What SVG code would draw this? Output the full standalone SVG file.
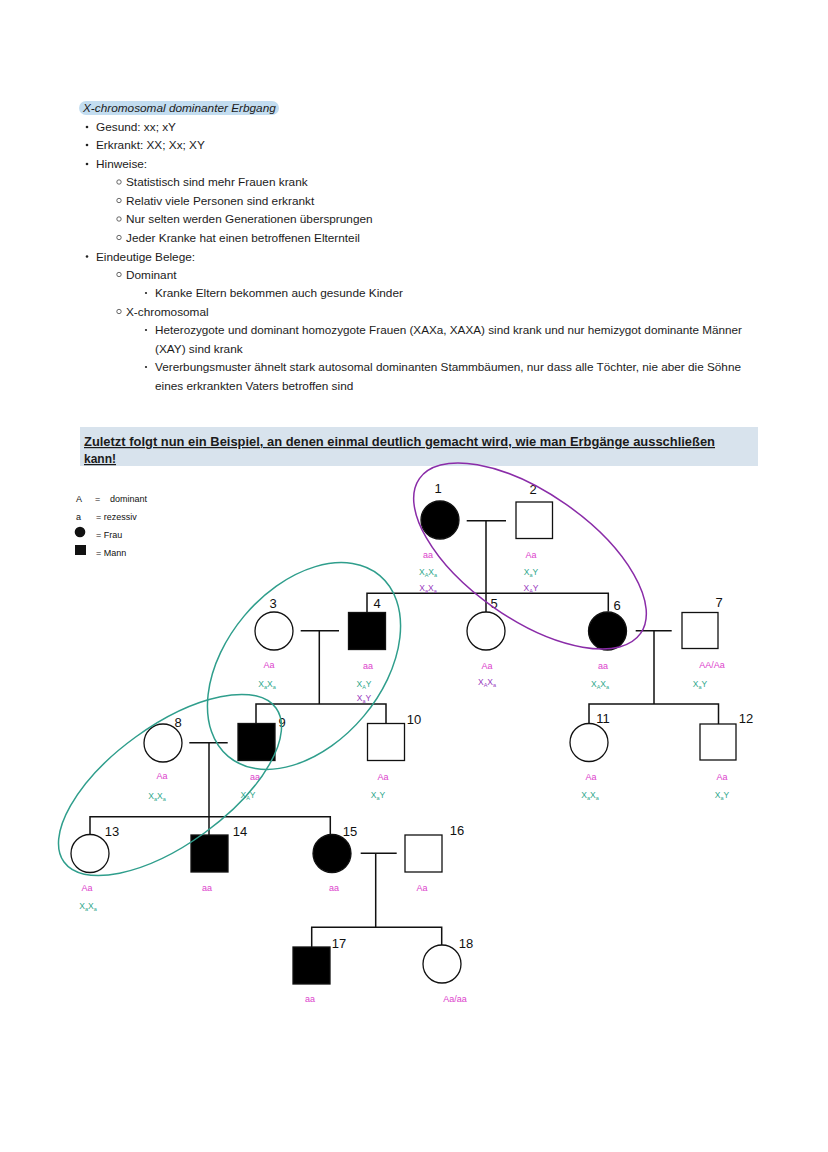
<svg xmlns="http://www.w3.org/2000/svg" width="828" height="1152" viewBox="0 0 828 1152">
<style>
.t{font-family:"Liberation Sans",Arial,sans-serif;font-size:11.8px;fill:#1b1b1b}
.b{font-family:"Liberation Sans",Arial,sans-serif;font-size:12px;font-weight:bold;fill:#1b1b1b;text-decoration:underline}
.lg{font-family:"Liberation Sans",Arial,sans-serif;font-size:9px;fill:#111}
.n{font-family:"Liberation Sans",Arial,sans-serif;font-size:13px;fill:#111;text-anchor:middle}
.m{font-family:"Liberation Sans",Arial,sans-serif;font-size:9px;fill:#dc42cc;text-anchor:middle}
.g{font-family:"Liberation Sans",Arial,sans-serif;font-size:8.5px;fill:#2fa88c;text-anchor:middle}
.p{font-family:"Liberation Sans",Arial,sans-serif;font-size:8.5px;fill:#9a3cc0;text-anchor:middle}
.s{font-size:5.5px}
.ln{fill:none;stroke:#111;stroke-width:1.5}
.fe{fill:#000;stroke:#111;stroke-width:1.3}
.em{fill:#fff;stroke:#111;stroke-width:1.3}
.dot{fill:#222}
.ring{fill:none;stroke:#444;stroke-width:0.8}
</style>
<rect width="828" height="1152" fill="#fff"/>

<g id="notes">
<rect x="79" y="101" width="200" height="14" rx="7" fill="#c3ddf0"/>
<text class="t" x="83" y="112" font-style="italic">X-chromosomal dominanter Erbgang</text>
<circle class="dot" cx="87" cy="127" r="1.3"/>
<text class="t" x="96" y="131">Gesund: xx; xY</text>
<circle class="dot" cx="87" cy="145" r="1.3"/>
<text class="t" x="96" y="149">Erkrankt: XX; Xx; XY</text>
<circle class="dot" cx="87" cy="164" r="1.3"/>
<text class="t" x="96" y="168">Hinweise:</text>
<circle class="ring" cx="119" cy="182" r="2.2"/>
<text class="t" x="126" y="186">Statistisch sind mehr Frauen krank</text>
<circle class="ring" cx="119" cy="200.5" r="2.2"/>
<text class="t" x="126" y="204.5">Relativ viele Personen sind erkrankt</text>
<circle class="ring" cx="119" cy="219" r="2.2"/>
<text class="t" x="126" y="223">Nur selten werden Generationen übersprungen</text>
<circle class="ring" cx="119" cy="237.5" r="2.2"/>
<text class="t" x="126" y="241.5">Jeder Kranke hat einen betroffenen Elternteil</text>
<circle class="dot" cx="87" cy="256.5" r="1.3"/>
<text class="t" x="96" y="260.5">Eindeutige Belege:</text>
<circle class="ring" cx="119" cy="274.5" r="2.2"/>
<text class="t" x="126" y="278.5">Dominant</text>
<circle class="dot" cx="146" cy="293" r="1.1"/>
<text class="t" x="155" y="297">Kranke Eltern bekommen auch gesunde Kinder</text>
<circle class="ring" cx="119" cy="311.5" r="2.2"/>
<text class="t" x="126" y="315.5">X-chromosomal</text>
<circle class="dot" cx="146" cy="330" r="1.1"/>
<text class="t" x="155" y="334" textLength="587" lengthAdjust="spacingAndGlyphs">Heterozygote und dominant homozygote Frauen (XAXa, XAXA) sind krank und nur hemizygot dominante Männer</text>
<text class="t" x="155" y="352.5">(XAY) sind krank</text>
<circle class="dot" cx="146" cy="367" r="1.1"/>
<text class="t" x="155" y="371" textLength="586" lengthAdjust="spacingAndGlyphs">Vererbungsmuster ähnelt stark autosomal dominanten Stammbäumen, nur dass alle Töchter, nie aber die Söhne</text>
<text class="t" x="155" y="389.5">eines erkrankten Vaters betroffen sind</text>
</g>

<g id="example-box">
<rect x="80" y="427" width="678" height="39" fill="#d8e3ed"/>
<text class="b" x="84" y="446" textLength="631" lengthAdjust="spacingAndGlyphs">Zuletzt folgt nun ein Beispiel, an denen einmal deutlich gemacht wird, wie man Erbgänge ausschließen</text>
<text class="b" x="84" y="463">kann!</text>
</g>

<g id="legend">
<text class="lg" x="76" y="502">A</text>
<text class="lg" x="95" y="502">=</text>
<text class="lg" x="110" y="502">dominant</text>
<text class="lg" x="76" y="520">a</text>
<text class="lg" x="96" y="520">= rezessiv</text>
<circle cx="80" cy="532" r="5.3" fill="#111"/>
<text class="lg" x="96" y="538">= Frau</text>
<rect x="75" y="545" width="11" height="10" fill="#111"/>
<text class="lg" x="96" y="556">= Mann</text>
</g>

<g id="connectors">
<path class="ln" d="M466.7 520.7H506M486 520.7V612M367 612.5V593.3H608.3V611.5"/>
<path class="ln" d="M300.7 630.7H339M319.3 630.7V704M256 723.5V704H386V723.5"/>
<path class="ln" d="M635.7 630.7H671.7M654 630.7V704M589 723.5V704H718.5V724"/>
<path class="ln" d="M189.3 742.7H227.7M209 742.7V835M90 834.5V816.7H330.3V834.5"/>
<path class="ln" d="M360.7 853.3H396.7M375.7 853.3V927.3M311.7 947V927.3H441.7V945"/>
</g>

<g id="p1"><circle class="fe" cx="440" cy="520" r="19"/><text class="n" x="438" y="493">1</text>
<text class="m" x="428" y="558">aa</text>
<text class="g" x="428" y="575">X<tspan class="s" dy="1.5">A</tspan><tspan dy="-1.5">X</tspan><tspan class="s" dy="1.5">a</tspan></text>
<text class="p" x="428" y="591">X<tspan class="s" dy="1.5">a</tspan><tspan dy="-1.5">X</tspan><tspan class="s" dy="1.5">a</tspan></text></g>
<g id="p2"><rect class="em" x="516" y="502" width="36.5" height="36.5"/><text class="n" x="533" y="494">2</text>
<text class="m" x="531" y="558">Aa</text>
<text class="g" x="531" y="575">X<tspan class="s" dy="1.5">a</tspan><tspan dy="-1.5">Y</tspan></text>
<text class="p" x="531" y="591">X<tspan class="s" dy="1.5">A</tspan><tspan dy="-1.5">Y</tspan></text></g>
<g id="p3"><circle class="em" cx="274" cy="631" r="19"/><text class="n" x="273" y="608">3</text>
<text class="m" x="269" y="668">Aa</text>
<text class="g" x="267" y="687">X<tspan class="s" dy="1.5">a</tspan><tspan dy="-1.5">X</tspan><tspan class="s" dy="1.5">a</tspan></text></g>
<g id="p4"><rect class="fe" x="348.5" y="612.5" width="37" height="37"/><text class="n" x="377" y="608">4</text>
<text class="m" x="368" y="669">aa</text>
<text class="g" x="364" y="687">X<tspan class="s" dy="1.5">A</tspan><tspan dy="-1.5">Y</tspan></text>
<text class="p" x="364" y="701">X<tspan class="s" dy="1.5">a</tspan><tspan dy="-1.5">Y</tspan></text></g>
<g id="p5"><circle class="em" cx="486" cy="631" r="19"/><text class="n" x="494" y="608">5</text>
<text class="m" x="487" y="669">Aa</text>
<text class="p" x="487" y="685">X<tspan class="s" dy="1.5">A</tspan><tspan dy="-1.5">X</tspan><tspan class="s" dy="1.5">a</tspan></text></g>
<g id="p6"><circle class="fe" cx="607.5" cy="631" r="19"/><text class="n" x="617" y="610">6</text>
<text class="m" x="603" y="669">aa</text>
<text class="g" x="600" y="687">X<tspan class="s" dy="1.5">A</tspan><tspan dy="-1.5">X</tspan><tspan class="s" dy="1.5">a</tspan></text></g>
<g id="p7"><rect class="em" x="682" y="612.5" width="36" height="36"/><text class="n" x="719" y="607">7</text>
<text class="m" x="712" y="668">AA/Aa</text>
<text class="g" x="700" y="687">X<tspan class="s" dy="1.5">a</tspan><tspan dy="-1.5">Y</tspan></text></g>
<g id="p8"><circle class="em" cx="163" cy="743" r="19"/><text class="n" x="178" y="727">8</text>
<text class="m" x="162" y="779">Aa</text>
<text class="g" x="157" y="799">X<tspan class="s" dy="1.5">a</tspan><tspan dy="-1.5">X</tspan><tspan class="s" dy="1.5">a</tspan></text></g>
<g id="p9"><rect class="fe" x="238" y="723.5" width="37" height="37"/><text class="n" x="282" y="727">9</text>
<text class="m" x="255" y="780">aa</text>
<text class="g" x="248" y="798">X<tspan class="s" dy="1.5">A</tspan><tspan dy="-1.5">Y</tspan></text></g>
<g id="p10"><rect class="em" x="367.5" y="723.5" width="37" height="37"/><text class="n" x="414" y="724">10</text>
<text class="m" x="383" y="780">Aa</text>
<text class="g" x="378" y="798">X<tspan class="s" dy="1.5">a</tspan><tspan dy="-1.5">Y</tspan></text></g>
<g id="p11"><circle class="em" cx="589" cy="742.5" r="19"/><text class="n" x="603" y="723">11</text>
<text class="m" x="591" y="780">Aa</text>
<text class="g" x="590" y="798">X<tspan class="s" dy="1.5">a</tspan><tspan dy="-1.5">X</tspan><tspan class="s" dy="1.5">a</tspan></text></g>
<g id="p12"><rect class="em" x="700" y="724" width="36" height="36"/><text class="n" x="746" y="723">12</text>
<text class="m" x="722" y="780">Aa</text>
<text class="g" x="722" y="798">X<tspan class="s" dy="1.5">a</tspan><tspan dy="-1.5">Y</tspan></text></g>
<g id="p13"><circle class="em" cx="90" cy="853.5" r="19"/><text class="n" x="112" y="836">13</text>
<text class="m" x="87" y="891">Aa</text>
<text class="g" x="88" y="909">X<tspan class="s" dy="1.5">a</tspan><tspan dy="-1.5">X</tspan><tspan class="s" dy="1.5">a</tspan></text></g>
<g id="p14"><rect class="fe" x="191" y="835" width="37" height="37"/><text class="n" x="240" y="836">14</text>
<text class="m" x="207" y="891">aa</text></g>
<g id="p15"><circle class="fe" cx="332" cy="853.5" r="19"/><text class="n" x="350" y="836">15</text>
<text class="m" x="334" y="891">aa</text></g>
<g id="p16"><rect class="em" x="405" y="835" width="37" height="37"/><text class="n" x="457" y="835">16</text>
<text class="m" x="422" y="891">Aa</text></g>
<g id="p17"><rect class="fe" x="293" y="947" width="37" height="37"/><text class="n" x="339" y="948">17</text>
<text class="m" x="310" y="1002">aa</text></g>
<g id="p18"><circle class="em" cx="442" cy="964" r="19"/><text class="n" x="466" y="948">18</text>
<text class="m" x="455" y="1002">Aa/aa</text></g>

<g id="annotations" fill="none" stroke-width="1.5">
<ellipse cx="530" cy="556" rx="135" ry="63" transform="rotate(35 530 556)" stroke="#8a2ca8"/>
<ellipse cx="304" cy="666" rx="118" ry="78" transform="rotate(-50 304 666)" stroke="#2f9e8c"/>
<ellipse cx="170" cy="785" rx="131" ry="59" transform="rotate(-36 170 785)" stroke="#2f9e8c"/>
</g>
</svg>
